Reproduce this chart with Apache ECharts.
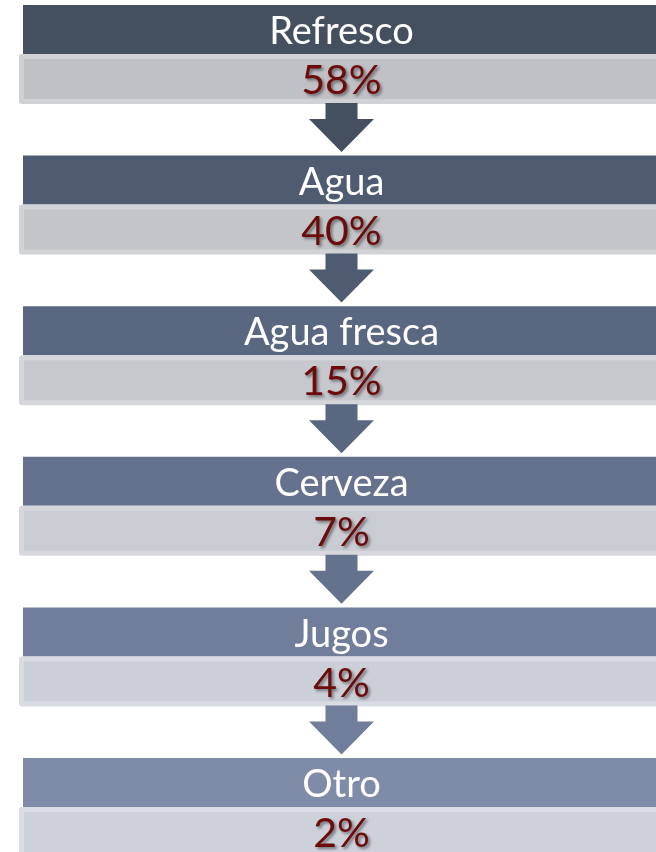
<!DOCTYPE html>
<html>
<head>
<meta charset="utf-8">
<script src="https://cdn.jsdelivr.net/npm/echarts@6/dist/echarts.min.js"></script>
<style>
  html, body { margin: 0; padding: 0; background: #fff; }
  #chart { width: 656px; height: 852px; }
</style>
</head>
<body>
<div id="chart"></div>
<script>
// bebidas preferidas
const categories = ["Refresco", "Agua", "Agua fresca", "Cerveza", "Jugos", "Otro"];
const shares = [58, 40, 15, 7, 4, 2];

// colores de cada bloque (de oscuro a claro)
const headerColors = ["#444f5f", "#4f5b70", "#5a6781", "#64728e", "#707e9b", "#7f8ca8"];
const boxColors = ["#c0c1c5", "#c3c5c9", "#c6c8ce", "#c9ccd3", "#cbcfd8", "#cdd1da"];
const boxEdgeColors = ["#d0d1d4", "#d2d3d7", "#d4d6da", "#d6d8de", "#d8dbe1", "#dadde4"];

const myChart = echarts.init(document.getElementById("chart"));

function renderItem(params, api) {
  const i = params.dataIndex;
  const c = api.coord([0, i]);
  const bandH = api.size([0, 1])[1];
  const top = c[1] - bandH / 2;
  const left = params.coordSys.x;
  const width = params.coordSys.width;
  const mid = left + width / 2;

  const children = [
    // encabezado
    {
      type: "rect",
      shape: { x: left + 4, y: top, width: width - 8, height: 49 },
      style: { fill: headerColors[i] }
    },
    // caja gris con borde claro
    {
      type: "rect",
      shape: { x: left, y: top + 49, width: width, height: 50, r: 3 },
      style: { fill: boxEdgeColors[i] }
    },
    {
      type: "rect",
      shape: { x: left + 5, y: top + 54, width: width - 10, height: 40 },
      style: { fill: boxColors[i] }
    },
    {
      type: "text",
      style: {
        text: categories[i],
        x: mid, y: top + 27,
        align: "center", verticalAlign: "middle",
        fill: "#fff",
        fontSize: 38, fontFamily: "Lato"
      }
    },
    {
      type: "text",
      style: {
        text: api.value(0) + "%",
        x: mid, y: top + 76,
        align: "center", verticalAlign: "middle",
        fill: "#6b0b0b",
        fontSize: 41, fontFamily: "Lato",
        textShadowColor: "rgba(0,0,0,0.45)",
        textShadowBlur: 3,
        textShadowOffsetX: 2,
        textShadowOffsetY: 2
      }
    }
  ];

  // flecha hacia el siguiente bloque
  if (i < categories.length - 1) {
    children.push({
      type: "polygon",
      shape: {
        points: [
          [mid - 16, top + 98], [mid + 16, top + 98],
          [mid + 16, top + 114], [mid + 32.5, top + 114],
          [mid, top + 147],
          [mid - 32.5, top + 114], [mid - 16, top + 114]
        ]
      },
      style: { fill: headerColors[i] }
    });
  }

  return { type: "group", children: children };
}

myChart.setOption({
  animation: false,
  grid: { left: 19, top: 5, width: 645, height: 6 * 150.6, outerBoundsMode: "none" },
  xAxis: { type: "value", min: 0, max: 100, show: false },
  yAxis: { type: "category", data: categories, inverse: true, show: false },
  series: [
    {
      type: "custom",
      renderItem: renderItem,
      encode: { x: 0, y: 1 },
      data: shares.map((v, i) => [v, categories[i]])
    }
  ]
});
</script>
</body>
</html>
